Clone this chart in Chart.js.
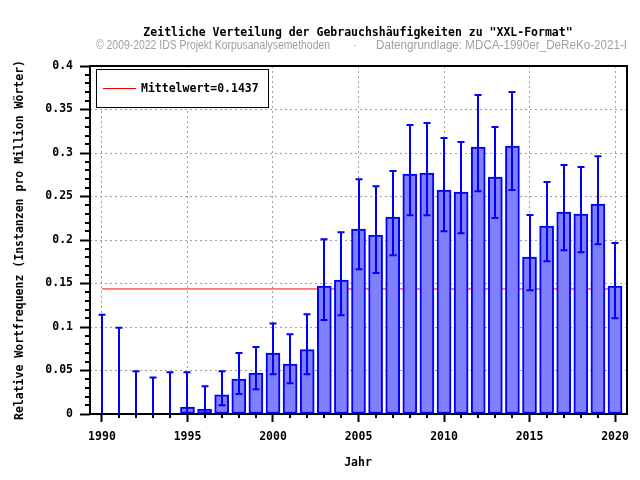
<!DOCTYPE html>
<html>
<head>
<meta charset="utf-8">
<script src="https://cdn.jsdelivr.net/npm/chart.js@4.4.1/dist/chart.umd.min.js"></script>
<style>
html, body { margin: 0; padding: 0; background: #fff; }
</style>
</head>
<body>
<canvas id="graphique" width="640" height="480"></canvas>
<script>
// Années et fréquences relatives
const annees = [1990, 1991, 1992, 1993, 1994, 1995, 1996, 1997, 1998, 1999,
	2000, 2001, 2002, 2003, 2004, 2005, 2006, 2007, 2008, 2009,
	2010, 2011, 2012, 2013, 2014, 2015, 2016, 2017, 2018, 2019, 2020];
const frequences = [0, 0, 0, 0, 0, 0.008, 0.0057, 0.022, 0.040, 0.047,
	0.070, 0.0575, 0.074, 0.147, 0.154, 0.2126, 0.2057, 0.2264, 0.2759, 0.277,
	0.2575, 0.2552, 0.3069, 0.2724, 0.308, 0.1805, 0.2161, 0.2322, 0.2299, 0.2414, 0.1471];
// Bornes des intervalles de confiance
const erreursBas = [0, 0, 0, 0, 0, 0.0015, 0.0015, 0.010, 0.023, 0.0285,
	0.0456, 0.0353, 0.0456, 0.108, 0.1134, 0.1663, 0.162, 0.1824, 0.2284, 0.2284,
	0.21, 0.2077, 0.256, 0.2253, 0.2575, 0.1422, 0.1755, 0.1882, 0.1859, 0.1951, 0.11];
const erreursHaut = [0.114, 0.099, 0.049, 0.042, 0.048, 0.048, 0.032, 0.049, 0.070, 0.077,
	0.104, 0.0916, 0.1146, 0.201, 0.2089, 0.2698, 0.2617, 0.2793, 0.3322, 0.3345,
	0.3172, 0.3126, 0.3667, 0.3299, 0.3701, 0.2287, 0.2667, 0.2862, 0.2839, 0.2962, 0.1966];
const moyenne = 0.1437;
const ticksAnnees = [1990, 1995, 2000, 2005, 2010, 2015, 2020];
const ticksFreq = [0, 0.05, 0.1, 0.15, 0.2, 0.25, 0.3, 0.35, 0.4];

const policeMono = '"DejaVu Sans Mono", monospace';

// Texte étiré/compressé pour occuper une largeur donnée
function texteAjuste(ctx, texte, x, y, largeur) {
	const w = ctx.measureText(texte).width;
	ctx.save();
	ctx.translate(x, y);
	ctx.scale(largeur / w, 1);
	ctx.fillText(texte, 0, 0);
	ctx.restore();
}

// Plugin : barres d'erreur, cadre, graduations secondaires, légende et titres
const decor = {
	id: "decor",
	afterDatasetsDraw(chart) {
		const ctx = chart.ctx;
		const xs = chart.scales.x;
		const ys = chart.scales.y;
		ctx.save();
		ctx.strokeStyle = "#0000ff";
		ctx.lineWidth = 2;
		for (let i = 0; i < annees.length; i++) {
			const x = Math.round(xs.getPixelForValue(annees[i]));
			const yb = ys.getPixelForValue(erreursBas[i]);
			const yh = ys.getPixelForValue(erreursHaut[i]);
			ctx.beginPath();
			ctx.moveTo(x, yb);
			ctx.lineTo(x, yh);
			ctx.moveTo(x - 3.5, yb);
			ctx.lineTo(x + 3.5, yb);
			ctx.moveTo(x - 3.5, yh);
			ctx.lineTo(x + 3.5, yh);
			ctx.stroke();
		}
		ctx.restore();
	},
	afterDraw(chart) {
		const ctx = chart.ctx;
		const zone = chart.chartArea;
		const xs = chart.scales.x;
		const ys = chart.scales.y;
		ctx.save();

		// Graduations secondaires
		ctx.strokeStyle = "#000";
		ctx.lineWidth = 2;
		ctx.beginPath();
		for (let k = 1; k < 40; k++) {
			if (k % 5 === 0) continue;
			const y = Math.round(ys.getPixelForValue(k / 100));
			ctx.moveTo(zone.left - 5, y);
			ctx.lineTo(zone.left, y);
		}
		for (let a = 1990; a <= 2020; a++) {
			if (a % 5 === 0) continue;
			const x = Math.round(xs.getPixelForValue(a));
			ctx.moveTo(x, zone.bottom);
			ctx.lineTo(x, zone.bottom + 4);
		}
		ctx.stroke();

		// Cadre
		ctx.lineWidth = 2;
		ctx.strokeRect(zone.left, zone.top, zone.right - zone.left, zone.bottom - zone.top);

		// Légende
		ctx.fillStyle = "#fff";
		ctx.fillRect(96, 69, 172, 38);
		ctx.lineWidth = 1;
		ctx.strokeStyle = "#000";
		ctx.strokeRect(96.5, 69.5, 172, 38);
		ctx.strokeStyle = "#ff0000";
		ctx.beginPath();
		ctx.moveTo(103, 88.5);
		ctx.lineTo(136, 88.5);
		ctx.stroke();
		ctx.fillStyle = "#000";
		ctx.font = "bold 11.5px " + policeMono;
		ctx.textBaseline = "middle";
		ctx.textAlign = "left";
		ctx.fillText("Mittelwert=0.1437", 141, 89);

		// Titre et sous-titre
		ctx.textAlign = "center";
		ctx.fillText('Zeitliche Verteilung der Gebrauchshäufigkeiten zu "XXL-Format"', 358, 33);
		ctx.font = '12px "Liberation Sans", Arial, sans-serif';
		ctx.fillStyle = "#a0a0a0";
		ctx.textAlign = "left";
		texteAjuste(ctx, "© 2009-2022 IDS Projekt Korpusanalysemethoden", 96, 46, 234);
		ctx.fillText("·", 353, 46);
		texteAjuste(ctx, "Datengrundlage: MDCA-1990er_DeReKo-2021-I", 376, 46, 251);

		// Titres des axes
		ctx.fillStyle = "#000";
		ctx.font = "bold 11.5px " + policeMono;
		ctx.textAlign = "center";
		ctx.fillText("Jahr", 358, 463);
		ctx.translate(20, 240);
		ctx.rotate(-Math.PI / 2);
		ctx.fillText("Relative Wortfrequenz (Instanzen pro Million Wörter)", 0, 0);
		ctx.restore();
	}
};

const data = {
	datasets: [{
		type: "bar",
		label: "Frequenz",
		data: annees.map((a, i) => ({ x: a, y: frequences[i] })),
		backgroundColor: "#8080ff",
		borderColor: "#0000ff",
		borderWidth: 2,
		borderSkipped: false,
		barThickness: 14,
		order: 0,
	}, {
		type: "line",
		label: "Mittelwert=0.1437",
		data: [{ x: annees[0], y: moyenne }, { x: annees[annees.length - 1], y: moyenne }],
		borderColor: "#ff0000",
		borderWidth: 1,
		pointRadius: 0,
		order: 1,
	}],
};

const config = {
	type: "bar",
	data: data,
	options: {
		responsive: false,
		animation: false,
		devicePixelRatio: 1,
		layout: { padding: { left: 0, top: 66, right: 13, bottom: 0 } },
		plugins: {
			legend: { display: false },
			tooltip: { enabled: false },
		},
		scales: {
			x: {
				type: "linear",
				min: 1989.3,
				max: 2020.7,
				offset: false,
				afterBuildTicks: (scale) => { scale.ticks = ticksAnnees.map(v => ({ value: v })); },
				afterFit: (scale) => { scale.height = 66; },
				grid: {
					offset: false,
					color: "#a0a0a0",
					lineWidth: 1,
					tickLength: 8,
					tickColor: "#000",
					tickWidth: 2,
					tickBorderDash: [],
				},
				border: { display: false, dash: [2, 3] },
				ticks: {
					color: "#000",
					padding: 8,
					maxRotation: 0,
					autoSkip: false,
					font: { family: policeMono, size: 11.5, weight: "bold" },
					callback: (v) => String(v),
				},
			},
			y: {
				type: "linear",
				min: 0,
				max: 0.4,
				afterBuildTicks: (scale) => { scale.ticks = ticksFreq.map(v => ({ value: v })); },
				afterFit: (scale) => { scale.width = 90; },
				grid: {
					color: "#a0a0a0",
					lineWidth: 1,
					tickLength: 10,
					tickColor: "#000",
					tickWidth: 2,
					tickBorderDash: [],
				},
				border: { display: false, dash: [2, 3] },
				ticks: {
					color: "#000",
					padding: 7,
					autoSkip: false,
					font: { family: policeMono, size: 11.5, weight: "bold" },
					callback: (v) => String(+v.toFixed(2)),
				},
			},
		},
	},
	plugins: [decor],
};

const graphique = new Chart(document.querySelector("#graphique"), config);
</script>
</body>
</html>
